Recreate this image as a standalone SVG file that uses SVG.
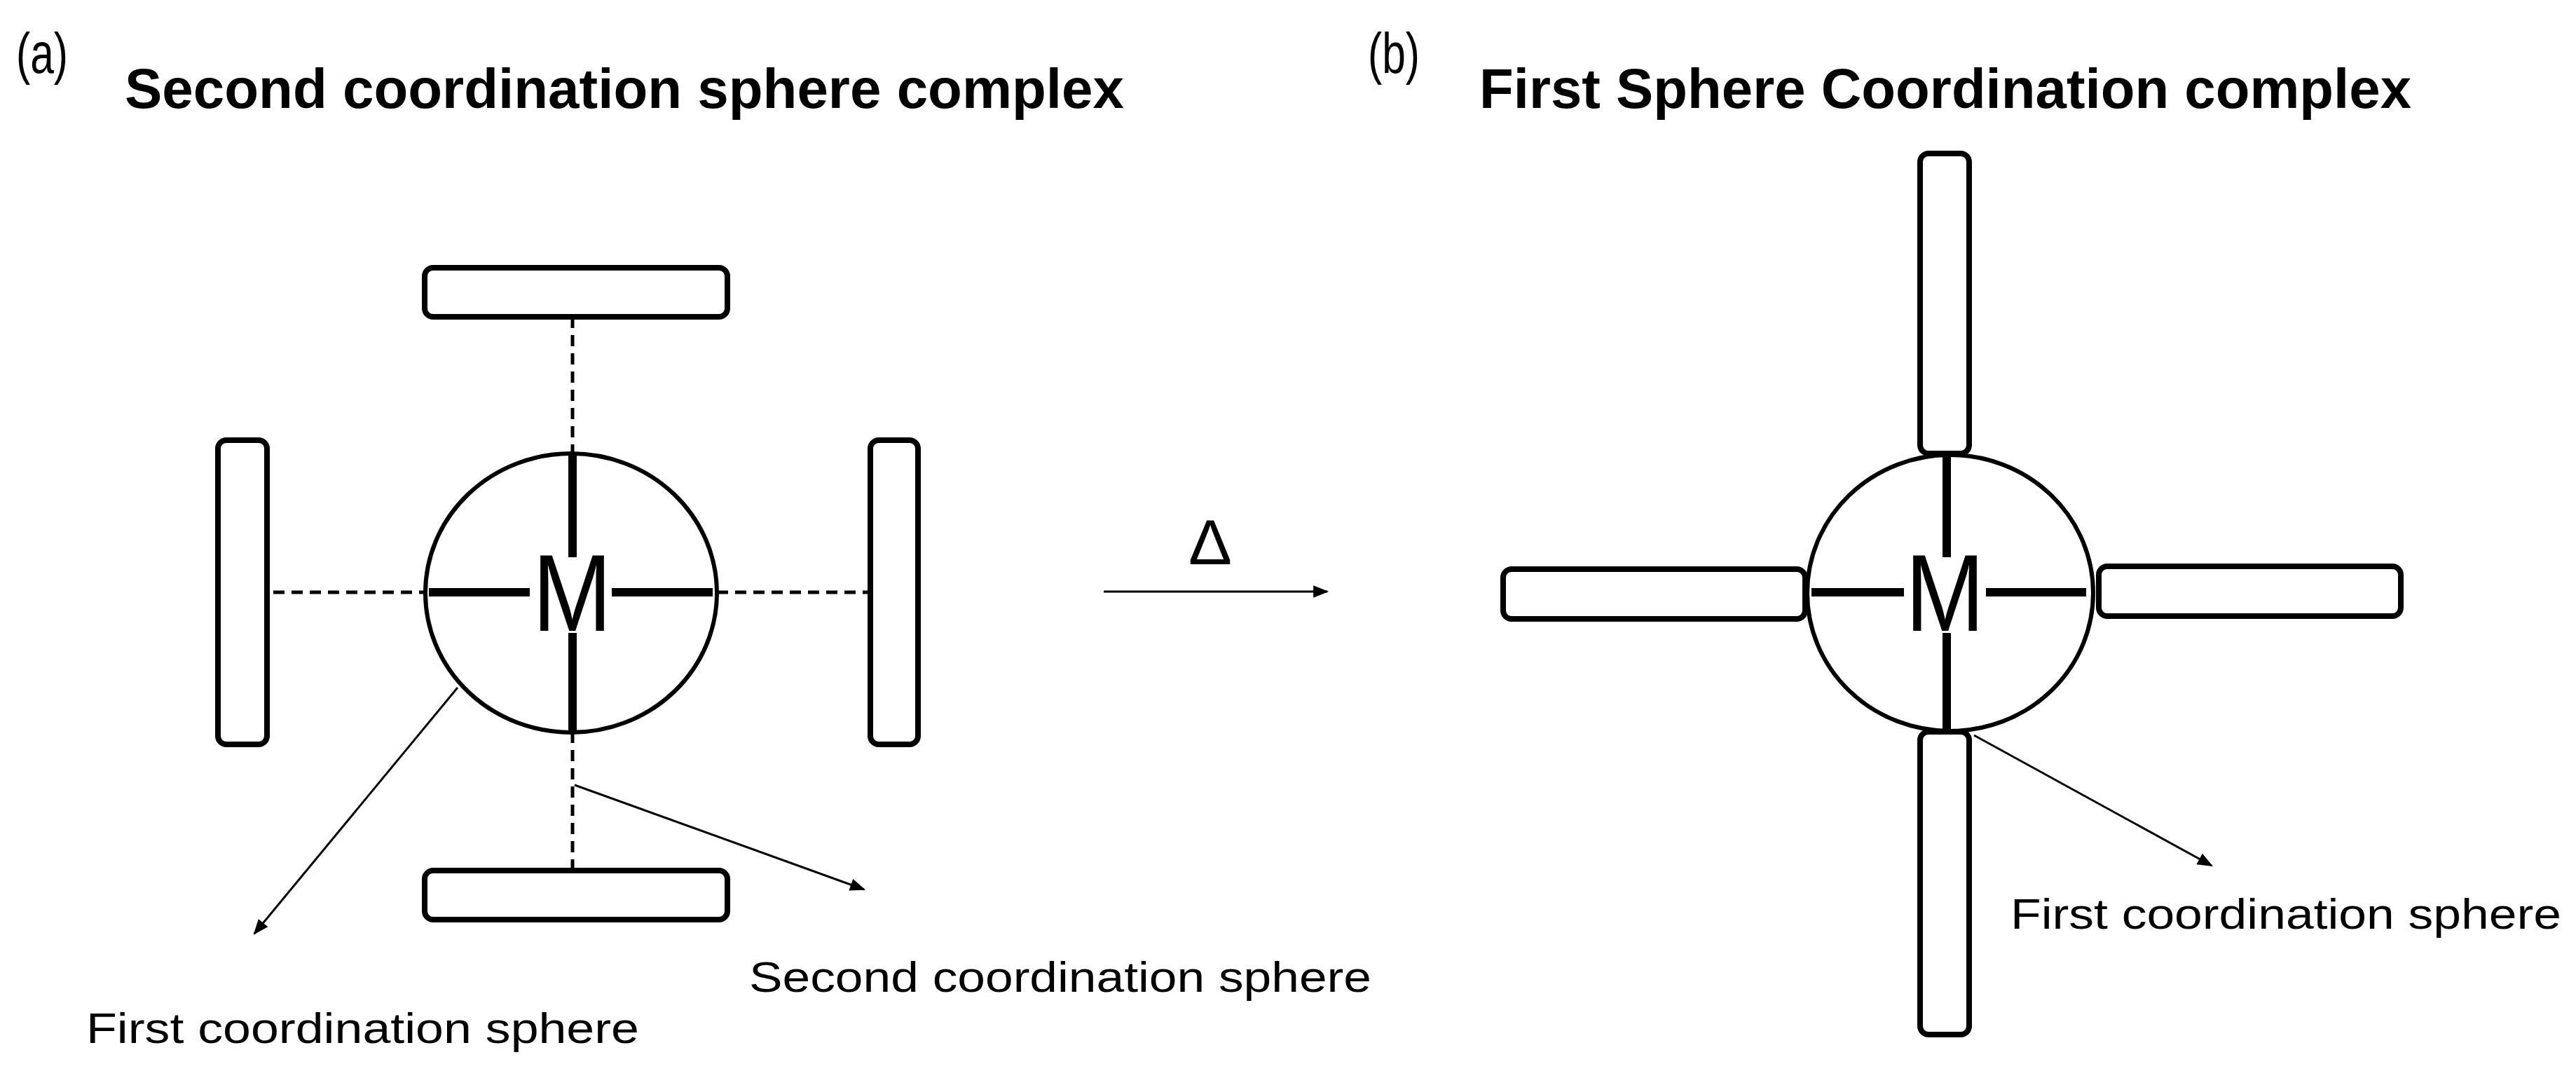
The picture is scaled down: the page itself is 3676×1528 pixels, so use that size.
<svg xmlns="http://www.w3.org/2000/svg" width="3676" height="1528" viewBox="0 0 3676 1528">
<style>
.t{font-family:"Liberation Sans",Arial,sans-serif;fill:#000}
.b{font-weight:bold}
.box{fill:#fff;stroke:#000;stroke-width:8}
.sph{fill:#fff;stroke:#000;stroke-width:6}
.bond{stroke:#000;stroke-width:12;fill:none}
.dash{stroke:#000;stroke-width:5;stroke-dasharray:16 10;fill:none}
.arr{stroke:#000;stroke-width:3;fill:none;marker-end:url(#ah)}
</style>
<defs>
<marker id="ah" viewBox="0 0 10 10" refX="9" refY="5" markerWidth="26" markerHeight="22" orient="auto" markerUnits="userSpaceOnUse">
<path d="M0,1 L10,5 L0,9 Z" fill="#000"/>
</marker>
</defs>
<rect width="3676" height="1528" fill="#fff"/>
<text class="t" x="23" y="104" font-size="82" textLength="74" lengthAdjust="spacingAndGlyphs">(a)</text>
<text class="t b" x="178" y="154" font-size="80" textLength="1426" lengthAdjust="spacingAndGlyphs">Second coordination sphere complex</text>
<text class="t" x="1952" y="104" font-size="82" textLength="74" lengthAdjust="spacingAndGlyphs">(b)</text>
<text class="t b" x="2111" y="154" font-size="80" textLength="1330" lengthAdjust="spacingAndGlyphs">First Sphere Coordination complex</text>
<g id="connectors">
<line class="dash" x1="817" y1="452" x2="817" y2="647"/>
<line class="dash" x1="817" y1="1044" x2="817" y2="1240"/>
<line class="dash" x1="390" y1="845" x2="606" y2="845"/>
<line class="dash" x1="1023" y1="845" x2="1238" y2="845"/>
<line class="arr" x1="653" y1="981" x2="363" y2="1332"/>
<line class="arr" x1="820" y1="1120" x2="1233" y2="1269"/>
<line class="arr" x1="1575" y1="844" x2="1894" y2="844"/>
<line class="arr" x1="2817" y1="1049" x2="3156" y2="1235"/>
</g>
<g id="left-complex">
<rect class="box" x="606" y="382" width="432" height="70" rx="12"/>
<rect class="box" x="606" y="1242" width="432" height="70" rx="12"/>
<rect class="box" x="311" y="628" width="70" height="434" rx="12"/>
<rect class="box" x="1242" y="628" width="68" height="434" rx="12"/>
<ellipse class="sph" cx="815" cy="846" rx="208" ry="199"/>
<line class="bond" x1="817" y1="647" x2="817" y2="795"/>
<line class="bond" x1="817" y1="903" x2="817" y2="1044"/>
<line class="bond" x1="612" y1="845" x2="756" y2="845"/>
<line class="bond" x1="873" y1="845" x2="1017" y2="845"/>
<text class="t" x="760" y="900" font-size="155" textLength="113" lengthAdjust="spacingAndGlyphs">M</text>
</g>
<g id="right-complex">
<rect class="box" x="2740" y="219" width="70" height="428" rx="12"/>
<rect class="box" x="2740" y="1044" width="70" height="432" rx="12"/>
<rect class="box" x="2145" y="812" width="431" height="71" rx="12"/>
<rect class="box" x="2995" y="808" width="431" height="71" rx="12"/>
<ellipse class="sph" cx="2783" cy="846" rx="204" ry="197"/>
<line class="bond" x1="2778" y1="649" x2="2778" y2="795"/>
<line class="bond" x1="2778" y1="903" x2="2778" y2="1042"/>
<line class="bond" x1="2585" y1="845" x2="2717" y2="845"/>
<line class="bond" x1="2834" y1="845" x2="2977" y2="845"/>
<text class="t" x="2719" y="900" font-size="155" textLength="113" lengthAdjust="spacingAndGlyphs">M</text>
</g>
<text class="t" x="1696" y="805" font-size="90" textLength="62" lengthAdjust="spacingAndGlyphs">Δ</text>
<text class="t" x="123" y="1488" font-size="62" textLength="789" lengthAdjust="spacingAndGlyphs">First coordination sphere</text>
<text class="t" x="1069" y="1415" font-size="62" textLength="888" lengthAdjust="spacingAndGlyphs">Second coordination sphere</text>
<text class="t" x="2869" y="1325" font-size="62" textLength="786" lengthAdjust="spacingAndGlyphs">First coordination sphere</text>
</svg>
